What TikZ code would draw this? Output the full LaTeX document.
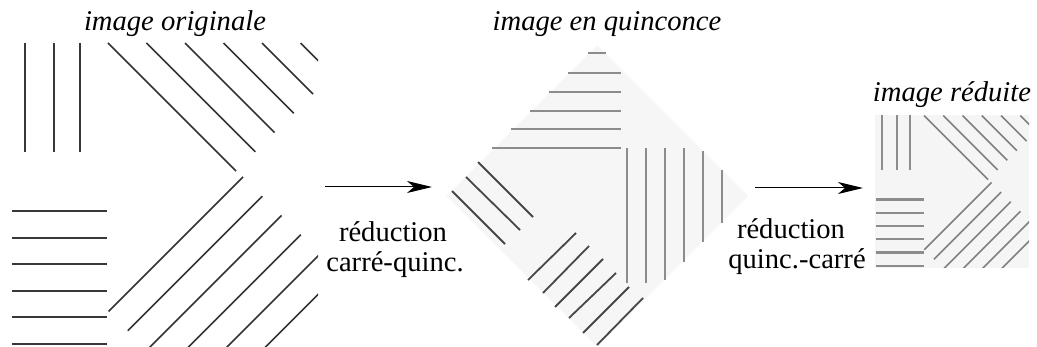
\documentclass[tikz,border=0pt]{standalone}
\usepackage{fontspec}
\setmainfont{Liberation Serif}
\newfontfamily\lser{Liberation Serif}
\usetikzlibrary{arrows.meta}
\tikzset{
  lbl/.style={inner sep=0pt, anchor=base, font=\lser\fontsize{14.3}{14.5}\selectfont},
  ttl/.style={lbl, font=\lser\fontsize{14.3}{14.5}\selectfont\itshape},
  oline/.style={draw=black!78, line width=0.95pt},
  odiag/.style={draw=black!80, line width=0.75pt},
  qhv/.style={draw=black!45, line width=1pt},
  qdiag/.style={draw=black!72, line width=0.9pt},
  rhv/.style={draw=black!45, line width=1.1pt},
  rdiag/.style={draw=black!50, line width=0.85pt},
  flow/.style={draw=black, line width=0.5pt, -{Stealth[length=12.5pt,width=6pt,inset=3.5pt]}},
}
\newcommand\origpict[2]{%
  \begin{scope}
    \clip (10,42) rectangle (318,347);
    \foreach \xv in {24.7,53.7,80} \path[#1] (\xv,43) -- (\xv,152);
    \foreach \yv in {211,237.6,264,290.6,317,343.6} \path[#1] (12,\yv) -- (107,\yv);
    \foreach \k in {0,...,5} {
      \pgfmathsetmacro\xstart{108+38.5*\k}
      \pgfmathsetmacro\dlen{(364-\xstart)/2}
      \path[#2] (\xstart,43) -- ++(\dlen,\dlen);
    }
    \foreach \j in {0,...,5} {
      \pgfmathsetmacro\csum{420+38.5*\j}
      \path[#2] ({(\csum-203)/2},{(\csum+203)/2}) -- ({(\csum+66)/2},{(\csum-66)/2});
    }
  \end{scope}
}
\begin{document}
\begin{tikzpicture}[x=0.5pt,y=-0.5pt]
  \useasboundingbox (0,0) rectangle (1037,347);

  % ---- original image ----
  \origpict{oline}{odiag}
  \node[ttl] (torig) at (175,31) {image originale};

  % ---- quincunx image ----
  \fill[black!3.5] (597,45) -- (748,196) -- (597,347) -- (446,196) -- cycle;
  \path[qhv] (588,53.5) -- (606,53.5);
  \path[qhv] (568,73) -- (621,73);
  \path[qhv] (549,92) -- (621,92);
  \path[qhv] (530,111) -- (621,111);
  \path[qhv] (511,129.5) -- (621,129.5);
  \path[qhv] (492,148) -- (621,148);
  \path[qhv] (627,148) -- (627,283);
  \path[qhv] (646,148) -- (646,283);
  \path[qhv] (665,148) -- (665,280);
  \path[qhv] (684,148) -- (684,262);
  \path[qhv] (703,151) -- (703,242);
  \path[qhv] (722,170) -- (722,223);
  \path[qdiag] (478,162) -- (533,217);
  \path[qdiag] (466,177) -- (520,230);
  \path[qdiag] (452,191) -- (505,244);
  \path[qdiag] (528,280) -- (576,233);
  \path[qdiag] (543,293) -- (589,246);
  \path[qdiag] (555,307) -- (603,259);
  \path[qdiag] (569,318) -- (616,273);
  \path[qdiag] (583,333) -- (629,287);
  \path[qdiag] (597,345) -- (643,298);
  \node[ttl] (tquinc) at (607,31) {image en quinconce};

  % ---- reduced image ----
  \fill[black!4] (875,115) rectangle (1029,268);
  \begin{scope}[shift={(870,94)}, scale=0.5]
    \origpict{rhv}{rdiag}
  \end{scope}
  \node[ttl] (tred) at (952,102) {image réduite};

  % ---- arrows and labels ----
  \coordinate (a1s) at (325,187);
  \coordinate (a1e) at (432,187);
  \coordinate (a2s) at (755,188);
  \coordinate (a2e) at (863,188);
  \draw[flow] (a1s) -- (a1e);
  \draw[flow] (a2s) -- (a2e);
  \node[lbl] (l1a) at (393,242) {réduction};
  \node[lbl] (l1b) at (395,271) {carré-quinc.};
  \node[lbl] (l2a) at (791,238) {réduction};
  \node[lbl] (l2b) at (797,268) {quinc.-carré};
\end{tikzpicture}
\end{document}
